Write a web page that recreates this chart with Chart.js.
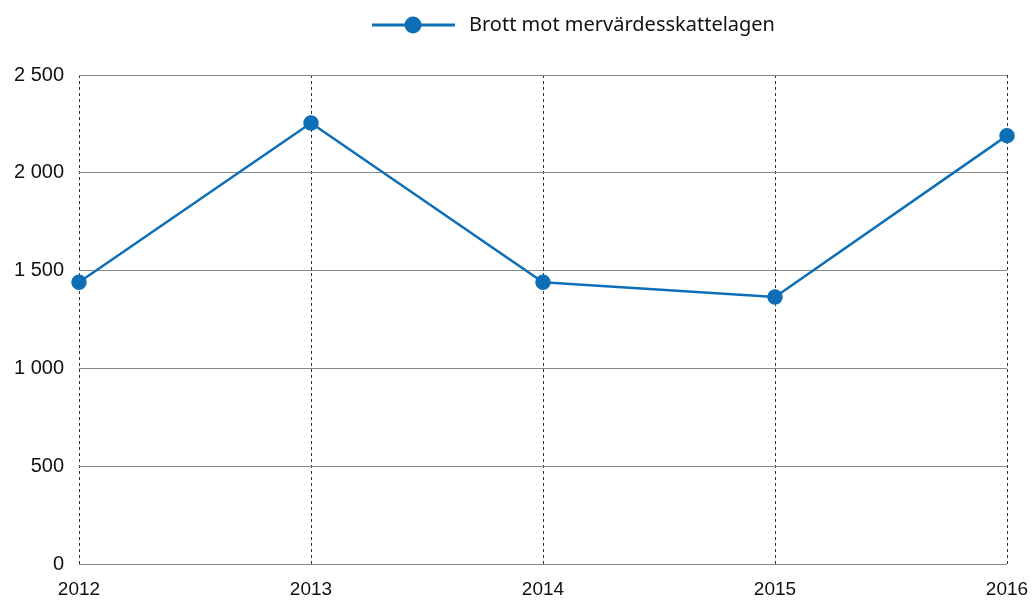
<!DOCTYPE html>
<html>
<head>
<meta charset="utf-8">
<script src="https://cdn.jsdelivr.net/npm/chart.js@4"></script>
<style>
  html, body { margin: 0; padding: 0; background: #fff; }
  #wrap { width: 1032px; height: 601px; position: relative; }
</style>
</head>
<body>
<div id="wrap"><canvas id="grafico"></canvas></div>
<script>
const years = ['2012', '2013', '2014', '2015', '2016'];
const brott = [1440, 2255, 1440, 1365, 2190];
const serieNamn = 'Brott mot mervärdesskattelagen';
const lineColor = '#0f6fb6';

// legend: line with a dot, then the label
const legendPlugin = {
    id: 'linjeLegend',
    afterDraw(chart) {
        const ctx = chart.ctx;
        const y = 25;
        ctx.save();
        ctx.strokeStyle = lineColor;
        ctx.lineWidth = 3;
        ctx.beginPath();
        ctx.moveTo(372, y);
        ctx.lineTo(455, y);
        ctx.stroke();
        ctx.fillStyle = lineColor;
        ctx.beginPath();
        ctx.arc(413, y, 8.5, 0, Math.PI * 2);
        ctx.fill();
        ctx.fillStyle = '#111';
        ctx.font = '20px "Noto Sans", Lato, sans-serif';
        ctx.textBaseline = 'middle';
        ctx.fillText(serieNamn, 469, y);
        ctx.restore();
    }
};

new Chart(document.getElementById('grafico').getContext('2d'), {
    type: 'line',
    data: {
        labels: years,
        datasets: [{
            label: serieNamn,
            data: brott,
            borderColor: lineColor,
            backgroundColor: lineColor,
            borderWidth: 2.5,
            pointRadius: 6.5,
            pointHoverRadius: 6.5,
            tension: 0
        }]
    },
    options: {
        responsive: true,
        maintainAspectRatio: false,
        animation: false,
        layout: { padding: { top: 75, right: 25, left: 0, bottom: 0 } },
        plugins: {
            legend: { display: false },
            tooltip: { enabled: false }
        },
        scales: {
            x: {
                offset: false,
                grid: { color: '#333', lineWidth: 1, drawTicks: false },
                border: { display: false, dash: [3, 3] },
                ticks: {
                    color: '#111',
                    padding: 14,
                    maxRotation: 0,
                    font: { family: '"Liberation Sans", Arial, sans-serif', size: 19 }
                },
                afterFit(scale) {
                    scale.height = 37;
                    scale.paddingLeft = 0;
                    scale.paddingRight = 0;
                }
            },
            y: {
                min: 0,
                max: 2500,
                grid: { color: '#8a8a8a', lineWidth: 1, drawTicks: false },
                border: { display: false },
                ticks: {
                    stepSize: 500,
                    color: '#111',
                    padding: 15,
                    font: { family: '"Liberation Sans", Arial, sans-serif', size: 20 },
                    callback: v => String(v).replace(/\B(?=(\d{3})+(?!\d))/g, ' ')
                },
                afterFit(scale) { scale.width = 79; }
            }
        }
    },
    plugins: [legendPlugin]
});
</script>
</body>
</html>
